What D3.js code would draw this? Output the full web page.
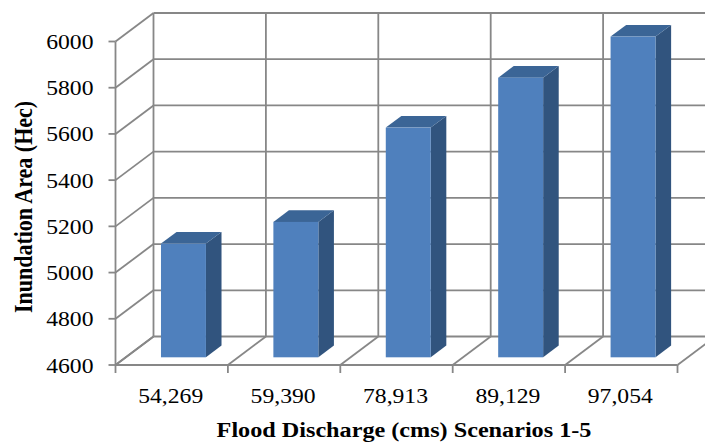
<!DOCTYPE html>
<html>
<head>
<meta charset="utf-8">
<script src="https://cdn.jsdelivr.net/npm/d3@7"></script>
<style>
  html, body { margin: 0; padding: 0; background: #fff; }
  svg { display: block; }
  text { font-family: "Liberation Serif", "Times New Roman", Tinos, serif; fill: #000; }
</style>
</head>
<body>
<svg id="chart" width="705" height="443"></svg>
<script>
// Flood scenarios: discharge (cms) and resulting inundated area (hectares)
const categories = ["54,269", "59,390", "78,913", "89,129", "97,054"];
const areaValues = [5092, 5186, 5594, 5810, 5988];
const yTicks = [4600, 4800, 5000, 5200, 5400, 5600, 5800, 6000];
const xTitle = "Flood Discharge (cms) Scenarios 1-5";
const yTitle = "Inundation Area (Hec)";

const W = 705, H = 443;
const svg = d3.select("#chart");

// Front plane of the 3D box
const front = { left: 115.5, right: 677.5, top: 41.5, bottom: 365 };
// Depth offset from the front plane to the back wall
const depth = { dx: 38, dy: -28.5 };
// Bars sit between these fractions of the depth
const barDepth = [0.27, 0.68];
const stretch = 1.1;

const x = d3.scaleBand().domain(categories).range([front.left, front.right]).paddingInner(0).paddingOuter(0);
const y = d3.scaleLinear().domain([4600, 6000]).range([front.bottom, front.top]);

const gridColor = "#878787";
const gridWidth = 1.8;

svg.append("defs").append("clipPath").attr("id", "plotClip")
  .append("rect").attr("x", 0).attr("y", 0).attr("width", W).attr("height", H);

const grid = svg.append("g").attr("clip-path", "url(#plotClip)")
  .attr("stroke", gridColor).attr("stroke-width", gridWidth).attr("fill", "none");

const boundaries = categories.map(c => x(c)).concat([x.range()[1]]);

// Back wall: horizontal gridlines
grid.selectAll("line.backH").data(yTicks).join("line")
  .attr("x1", front.left + depth.dx).attr("x2", front.right + depth.dx)
  .attr("y1", d => y(d) + depth.dy).attr("y2", d => y(d) + depth.dy);

// Back wall: vertical gridlines at category boundaries
grid.selectAll("line.backV").data(boundaries).join("line")
  .attr("x1", d => d + depth.dx).attr("x2", d => d + depth.dx)
  .attr("y1", y(6000) + depth.dy).attr("y2", y(4600) + depth.dy);

// Side wall: diagonal gridlines
grid.selectAll("line.sideD").data(yTicks).join("line")
  .attr("x1", front.left).attr("y1", d => y(d))
  .attr("x2", front.left + depth.dx).attr("y2", d => y(d) + depth.dy);

// Floor: diagonals at category boundaries
grid.selectAll("line.floorD").data(boundaries).join("line")
  .attr("x1", d => d).attr("y1", y(4600))
  .attr("x2", d => d + depth.dx).attr("y2", y(4600) + depth.dy);

// Front axes
const axisG = svg.append("g").attr("stroke", gridColor).attr("stroke-width", gridWidth);
axisG.append("line").attr("x1", front.left).attr("x2", front.left)
  .attr("y1", y(6000)).attr("y2", y(4600));
axisG.append("line").attr("x1", front.left).attr("x2", front.right)
  .attr("y1", y(4600)).attr("y2", y(4600));
axisG.selectAll("line.yt").data(yTicks).join("line")
  .attr("x1", front.left - 7).attr("x2", front.left)
  .attr("y1", d => y(d)).attr("y2", d => y(d));
axisG.selectAll("line.xt").data(boundaries).join("line")
  .attr("x1", d => d).attr("x2", d => d)
  .attr("y1", y(4600)).attr("y2", y(4600) + 8);

// Bars as prisms
const barW = x.bandwidth() * 0.4;
const d0x = depth.dx * barDepth[0], d0y = depth.dy * barDepth[0];
const d1x = depth.dx * barDepth[1], d1y = depth.dy * barDepth[1];

const bars = svg.append("g").selectAll("g.bar")
  .data(categories.map((c, i) => ({ c, v: areaValues[i] })))
  .join("g");

bars.each(function(d) {
  const g = d3.select(this);
  const cx = x(d.c) + x.bandwidth() / 2 + 1.5;
  const xl = cx - barW / 2 + d0x, xr = cx + barW / 2 + d0x;
  const yb = y(4600) + d0y, yt = y(d.v) + d0y;
  const ddx = d1x - d0x, ddy = d1y - d0y;
  // side face
  g.append("path").attr("fill", "#31547e")
    .attr("d", `M${xr},${yt}L${xr + ddx},${yt + ddy}L${xr + ddx},${yb + ddy}L${xr},${yb}Z`);
  // top face
  g.append("path").attr("fill", "#3b6596")
    .attr("d", `M${xl},${yt}L${xl + ddx},${yt + ddy}L${xr + ddx},${yt + ddy}L${xr},${yt}Z`);
  // front face
  g.append("rect").attr("fill", "#4f80bd")
    .attr("x", xl).attr("y", yt).attr("width", xr - xl).attr("height", yb - yt);
});

// Tick labels
svg.append("g").selectAll("text").data(yTicks).join("text")
  .attr("transform", d => `translate(93.5,${y(d) + 7.5}) scale(${stretch},1)`)
  .attr("text-anchor", "end").attr("font-size", 21.5)
  .text(d => d);

svg.append("g").selectAll("text").data(categories).join("text")
  .attr("transform", d => `translate(${x(d) + x.bandwidth() / 2 - 1},403) scale(${stretch},1)`)
  .attr("text-anchor", "middle").attr("font-size", 21.5)
  .text(d => d);

// Axis titles
svg.append("text")
  .attr("transform", `translate(404,437) scale(${stretch},1)`)
  .attr("text-anchor", "middle").attr("font-size", 22).attr("font-weight", "bold")
  .text(xTitle);

svg.append("text")
  .attr("transform", `translate(32,207) rotate(-90) scale(1,${stretch})`)
  .attr("text-anchor", "middle").attr("font-size", 22).attr("font-weight", "bold")
  .text(yTitle);
</script>
</body>
</html>
